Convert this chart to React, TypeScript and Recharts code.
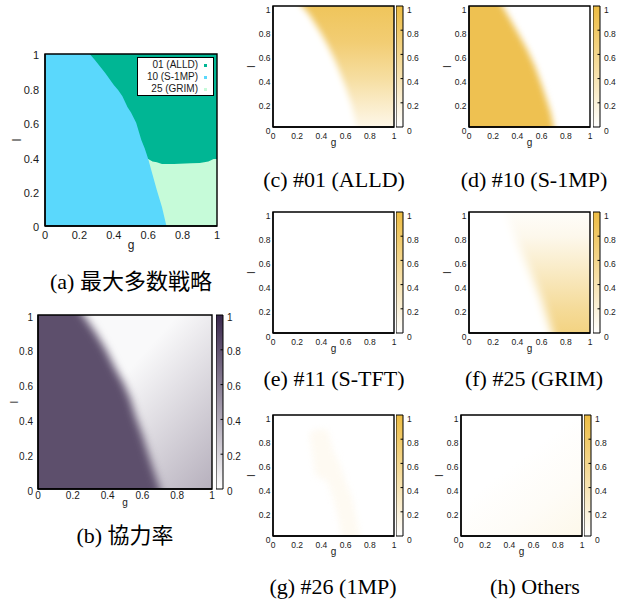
import React from 'react';
import { ComposedChart, Area, XAxis, YAxis, ReferenceArea, Legend } from 'recharts';

// ---------------- data ----------------
const TICKS = [0, 0.2, 0.4, 0.6, 0.8, 1];
const CB_LEVELS = [0, 1];
const CB_TOP = [1, 1];

// (a) majority strategy: region boundaries, l as a function of g
const aG = [0, 0.26, 0.29, 0.35, 0.4, 0.425, 0.45, 0.48, 0.5, 0.53, 0.56, 0.58, 0.6, 0.625, 0.65, 0.68, 0.706, 0.75, 0.85, 0.9, 0.95, 0.98, 1];
const aALLD = [1, 1, 1, 1, 1, 1, 1, 1, 1, 1, 1, 1, 1, 1, 1, 1, 1, 1, 1, 1, 1, 1, 1];
const aS1MP = [1, 1, 0.965, 0.89, 0.82, 0.79, 0.755, 0.69, 0.66, 0.6, 0.5, 0.45, 0.39, 0.3, 0.21, 0.11, 0, 0, 0, 0, 0, 0, 0];
const aGRIM = [0.39, 0.39, 0.39, 0.39, 0.39, 0.39, 0.39, 0.39, 0.39, 0.39, 0.39, 0.39, 0.39, 0.375, 0.37, 0.36, 0.36, 0.36, 0.365, 0.367, 0.375, 0.39, 0.39];

// (b) cooperation rate
const bG = [-0.2, 0, 0.1, 0.18, 0.26, 0.33, 0.39, 0.44, 0.49, 0.53, 0.56, 0.6, 0.625, 0.66, 0.7, 0.76, 1, 1.2];
const bHighTop = [1.3, 1.3, 1.3, 1.13, 1, 0.9, 0.8, 0.7, 0.61, 0.52, 0.42, 0.31, 0.23, 0.12, 0, -0.2, -0.2, -0.2];
const bLowTop = [null, 1, 1, 1, 1, 1, 1, 1, 1, 1, 1, 1, 1, 1, 1, 1, 1, null];
const bHighValue = 0.82;
const bLowValues = [0.03, 0.4];

// (c) #01 ALLD share
const cG = [-0.2, 0, 0.1, 0.17, 0.24, 0.3, 0.4, 0.45, 0.51, 0.55, 0.6, 0.65, 0.69, 0.74, 1, 1.2];
const cZeroTop = [1.3, 1.3, 1.3, 1.12, 1, 0.93, 0.77, 0.68, 0.555, 0.46, 0.33, 0.18, 0, -0.2, -0.2, -0.2];
const cShareTop = [null, 1, 1, 1, 1, 1, 1, 1, 1, 1, 1, 1, 1, 1, 1, null];
const cShareL = [1, 0.7, 0.4, 0.2, 0];
const cShareV = [0.87, 0.74, 0.5, 0.3, 0.12];

// (d) #10 S-1MP share
const dG = [-0.2, 0, 0.1, 0.19, 0.276, 0.34, 0.406, 0.48, 0.545, 0.6, 0.64, 0.675, 0.7, 0.75, 1, 1.2];
const dShareTop = [1.3, 1.3, 1.3, 1.15, 1, 0.89, 0.775, 0.64, 0.5, 0.35, 0.23, 0.12, 0, -0.2, -0.2, -0.2];
const dShareValue = 0.92;

// (e) #11 S-TFT share (zero everywhere)
const eG = [0, 1];
const eShareTop = [1, 1];
const eShareValue = 0;

// (f) #25 GRIM share
const fG = [-0.2, 0, 0.1, 0.2, 0.3, 0.4, 0.51, 0.6, 0.69, 0.75, 1, 1.2];
const fZeroTop = [1.3, 1.3, 1.3, 1.15, 1, 0.75, 0.5, 0.28, 0, -0.2, -0.2, -0.2];
const fShareTop = [null, 1, 1, 1, 1, 1, 1, 1, 1, 1, 1, null];
const fShareL = [1, 0.8, 0.5, 0.2, 0];
const fShareV = [0.03, 0.1, 0.32, 0.54, 0.66];

// (g) #26 1MP share (faint band)
const gG = [0.3, 0.35, 0.45, 0.5, 0.55, 0.6, 0.66, 0.7, 0.75];
const gBandLo = [0.85, 0.5, 0.45, 0.3, 0.1, -0.2, -0.2, -0.2, -0.2];
const gBandHi = [0.85, 0.88, 0.88, 0.7, 0.6, 0.45, 0.3, 0.1, -0.2];
const gBandValue = 0.07;

// (h) others
const hG = [0, 1];
const hShareTop = [1, 1];
const hShareV = [0, 0.04, 0.11];

// ---------------- styling helpers ----------------
const SANS = "'Liberation Sans', Arial, Helvetica, sans-serif";
const SERIF = "'Liberation Serif', 'Times New Roman', 'Noto Sans CJK JP', serif";
const TXT = '#1a1a1a';
const AXIS_LINE = { stroke: '#000', strokeWidth: 1.3 };
const C_ALLD = '#00b694';
const C_S1MP = '#5ad8fc';
const C_GRIM = '#c6fbd9';
const PURPLE_MAX = [58, 40, 76];
const GOLD_MAX = [237, 188, 66];
const mix = (c: number[], v: number) => `rgb(${c.map((k) => Math.round(255 + (k - 255) * v)).join(',')})`;
const purple = (v: number) => mix(PURPLE_MAX, v);
const gold = (v: number) => mix(GOLD_MAX, v);

const ML = 44, MT = 8, MR = 6, MB = 24;

const table = (g: number[], cols: Record<string, any[]>) =>
  g.map((gv, i) => {
    const r: Record<string, any> = { g: gv };
    Object.keys(cols).forEach((k) => { r[k] = cols[k][i]; });
    return r;
  });

const aRows = table(aG, { alld: aALLD, s1mp: aS1MP, grim: aGRIM });
const bRows = table(bG, { high: bHighTop, low: bLowTop });
const cRows = table(cG, { zero: cZeroTop, share: cShareTop });
const dRows = table(dG, { share: dShareTop });
const eRows = table(eG, { share: eShareTop });
const fRows = table(fG, { zero: fZeroTop, share: fShareTop });
const gRows = table(gG, { band: gBandLo.map((lo, i) => [lo, gBandHi[i]]) });
const hRows = table(hG, { share: hShareTop });
const cbRows = CB_LEVELS.map((c, i) => ({ c, v: CB_TOP[i] }));

type Cfg = {
  left: number; top: number; size: number; font: number; xc: number; yc: number; gap: number;
  gDy: number; lDx: number; axFont: number; cbLeft?: number; cbGrad?: string;
  cap: string; capX: number; capY: number;
};

const SMALL = { size: 121, font: 8.5, xc: 9, yc: 3.5, gap: 2.5, gDy: 17, lDx: 21.5, axFont: 10 };
const PA: Cfg = { left: 45, top: 54, size: 172, font: 11, xc: 9, yc: 1.5, gap: 6, gDy: 21, lDx: 28, axFont: 12, cap: '(a) 最大多数戦略', capX: 131, capY: 283 };
const PB: Cfg = { left: 38, top: 315, size: 174, font: 10, xc: 6, yc: 2, gap: 5, gDy: 15, lDx: 23.5, axFont: 10, cbLeft: 216, cbGrad: 'cbPurple', cap: '(b) 協力率', capX: 125, capY: 537 };
const PC: Cfg = { ...SMALL, left: 273, top: 6, cbLeft: 396, cbGrad: 'cbGold', cap: '(c) #01 (ALLD)', capX: 334, capY: 181 };
const PD: Cfg = { ...SMALL, left: 469, top: 6, cbLeft: 593, cbGrad: 'cbGold', cap: '(d) #10 (S-1MP)', capX: 534, capY: 181 };
const PE: Cfg = { ...SMALL, left: 273, top: 212, cbLeft: 396, cbGrad: 'cbGold', cap: '(e) #11 (S-TFT)', capX: 334, capY: 380 };
const PF: Cfg = { ...SMALL, left: 469, top: 212, cbLeft: 593, cbGrad: 'cbGold', cap: '(f) #25 (GRIM)', capX: 534, capY: 380 };
const PG: Cfg = { ...SMALL, left: 273, top: 415, cbLeft: 396, cbGrad: 'cbGold', cap: '(g) #26 (1MP)', capX: 333, capY: 588 };
const PH: Cfg = { ...SMALL, left: 461, top: 415, cbLeft: 584, cbGrad: 'cbGold', cap: '(h) Others', capX: 535, capY: 588 };
const PANELS = [PA, PB, PC, PD, PE, PF, PG, PH];

const fmt = (v: number) => String(v);

function Panel({ cfg, rows, children }: { cfg: Cfg; rows: any[]; children: React.ReactNode }) {
  const { left, top, size, font, xc, yc, gap } = cfg;
  const xTick = (p: any) => (
    <text x={p.x} y={p.y + xc + 0.36 * font} textAnchor="middle" fontSize={font} fontFamily={SANS} fill={TXT}>
      {fmt(p.payload.value)}
    </text>
  );
  const yTick = (p: any) => (
    <text x={p.x - gap} y={p.y + yc + 0.36 * font} textAnchor="end" fontSize={font} fontFamily={SANS} fill={TXT}>
      {fmt(p.payload.value)}
    </text>
  );
  return (
    <div style={{ position: 'absolute', left: left - ML, top: top - MT }}>
      <ComposedChart width={ML + size + MR} height={MT + size + MB} data={rows} margin={{ top: MT, right: MR, bottom: 0, left: 0 }}>
        {children}
        <XAxis dataKey="g" type="number" domain={[0, 1]} allowDataOverflow ticks={TICKS} interval={0} height={MB}
          tickSize={0} tickMargin={0} tickLine={false} tick={xTick} axisLine={AXIS_LINE} />
        <YAxis type="number" domain={[0, 1]} allowDataOverflow ticks={TICKS} interval={0} width={ML}
          tickSize={0} tickMargin={0} tickLine={false} tick={yTick} axisLine={AXIS_LINE} />
        <ReferenceArea x1={0} x2={1} y1={0} y2={1} fill="none" fillOpacity={0} stroke="#000" strokeWidth={1.4}
          ifOverflow="visible" />
      </ComposedChart>
    </div>
  );
}

function ColorBar({ cfg }: { cfg: Cfg }) {
  const W = 7;
  const { top, size, font, yc } = cfg;
  const tick = (p: any) => {
    const v = p.payload.value;
    return (
      <g>
        {v !== 0 && v !== 1 ? <line x1={p.x - 2.5} x2={p.x} y1={p.y} y2={p.y} stroke="#000" strokeWidth={1} /> : null}
        <text x={p.x + 4} y={p.y + yc + 0.36 * font} fontSize={font} fontFamily={SANS} fill={TXT}>{fmt(v)}</text>
      </g>
    );
  };
  return (
    <div style={{ position: 'absolute', left: cfg.cbLeft, top: top - MT }}>
      <ComposedChart width={W + 30} height={size + 2 * MT} data={cbRows} margin={{ top: MT, right: 0, bottom: MT, left: 0 }}>
        <Area dataKey="v" type="linear" baseValue={0} fill={`url(#${cfg.cbGrad})`} fillOpacity={1} stroke="none"
          isAnimationActive={false} dot={false} activeDot={false} />
        <XAxis dataKey="c" type="number" domain={[0, 1]} hide />
        <YAxis orientation="right" type="number" domain={[0, 1]} ticks={TICKS} interval={0} width={30}
          tickSize={0} tickMargin={0} tickLine={false} axisLine={false} tick={tick} />
        <ReferenceArea x1={0} x2={1} y1={0} y2={1} fill="none" fillOpacity={0} stroke="#000" strokeWidth={1}
          ifOverflow="visible" />
      </ComposedChart>
    </div>
  );
}

const legendContent = (props: any) => {
  const items = [...(props.payload || [])].sort((a: any, b: any) => String(a.value).localeCompare(String(b.value)));
  return (
    <div style={{ width: 75, height: 36, border: '1px solid #000', background: '#fff', fontFamily: SANS, fontSize: 10,
      lineHeight: '12.2px', color: TXT, paddingTop: 1, boxSizing: 'content-box' }}>
      {items.map((it: any) => (
        <div key={it.value} style={{ display: 'flex', justifyContent: 'flex-end', alignItems: 'center', paddingRight: 6 }}>
          <span>{it.value}</span>
          <span style={{ display: 'inline-block', width: 3, height: 3, background: it.color, marginLeft: 6 }} />
        </div>
      ))}
    </div>
  );
};

function Defs() {
  const vstops = (ls: number[], vs: number[], pal: (v: number) => string) =>
    ls.map((l, i) => <stop key={i} offset={1 - l} stopColor={pal(vs[i])} />);
  return (
    <svg width={0} height={0} style={{ position: 'absolute', left: 0, top: 0 }} aria-hidden="true">
      <defs>
        <linearGradient id="cbPurple" x1="0" y1="1" x2="0" y2="0">
          <stop offset="0" stopColor={purple(0)} />
          <stop offset="1" stopColor={purple(1)} />
        </linearGradient>
        <linearGradient id="cbGold" x1="0" y1="1" x2="0" y2="0">
          <stop offset="0" stopColor={gold(0)} />
          <stop offset="1" stopColor={gold(1)} />
        </linearGradient>
        <linearGradient id="bBg" x1="0.4" y1="0.45" x2="1.064" y2="1.044">
          <stop offset="0" stopColor={purple(bLowValues[0])} />
          <stop offset="1" stopColor={purple(bLowValues[1])} />
        </linearGradient>
        <linearGradient id="cBg" x1="0" y1="0" x2="0" y2="1">{vstops(cShareL, cShareV, gold)}</linearGradient>
        <linearGradient id="fBg" x1="0" y1="0" x2="0" y2="1">{vstops(fShareL, fShareV, gold)}</linearGradient>
        <linearGradient id="hBg" x1="0.5" y1="0.35" x2="1" y2="1">
          <stop offset="0" stopColor={gold(hShareV[0])} />
          <stop offset="0.5" stopColor={gold(hShareV[1])} />
          <stop offset="1" stopColor={gold(hShareV[2])} />
        </linearGradient>
        {[3, 4, 5].map((s) => (
          <filter key={s} id={`blur${s}`} x="-50%" y="-50%" width="200%" height="200%" colorInterpolationFilters="sRGB">
            <feGaussianBlur stdDeviation={s} />
          </filter>
        ))}
      </defs>
    </svg>
  );
}

function Overlay() {
  return (
    <svg width={625} height={600} style={{ position: 'absolute', left: 0, top: 0, pointerEvents: 'none' }}>
      {PANELS.map((c) => {
        const lx = c.left - c.lDx;
        const ly = c.top + c.size / 2;
        return (
          <g key={c.cap}>
            <text x={c.left + c.size / 2} y={c.top + c.size + c.gDy + 0.16 * c.axFont} textAnchor="middle"
              fontSize={c.axFont} fontFamily={SANS} fill={TXT}>g</text>
            <text x={lx} y={ly + 0.36 * c.axFont} textAnchor="middle" fontSize={c.axFont} fontFamily={SANS} fill={TXT}
              transform={`rotate(-90 ${lx} ${ly})`}>l</text>
            <text x={c.capX} y={c.capY + 5.5} textAnchor="middle" fontSize={22} fontFamily={SERIF} fill="#000">{c.cap}</text>
          </g>
        );
      })}
    </svg>
  );
}

const common = { type: 'linear' as const, stroke: 'none', fillOpacity: 1, isAnimationActive: false, dot: false, activeDot: false };

export default function App() {
  return (
    <div style={{ position: 'absolute', left: 0, top: 0, width: 625, height: 600, background: '#fff', overflow: 'hidden' }}>
      <style>{`.blur3 .recharts-area-area{filter:url(#blur3)}.blur4 .recharts-area-area{filter:url(#blur4)}.blur5 .recharts-area-area{filter:url(#blur5)}`}</style>
      <Defs />

      <Panel cfg={PA} rows={aRows}>
        <Area {...common} dataKey="alld" name="01 (ALLD)" fill={C_ALLD} baseValue={0} />
        <Area {...common} dataKey="grim" name="25 (GRIM)" fill={C_GRIM} baseValue={0} />
        <Area {...common} dataKey="s1mp" name="10 (S-1MP)" fill={C_S1MP} baseValue={0} />
        <Legend layout="horizontal" verticalAlign="middle" align="center" content={legendContent}
          wrapperStyle={{ position: 'absolute', left: 136, top: 11, width: 78 }} />
      </Panel>

      <Panel cfg={PB} rows={bRows}>
        <Area {...common} dataKey="low" name="low" fill="url(#bBg)" baseValue={0} />
        <Area {...common} dataKey="high" name="high" fill={purple(bHighValue)} baseValue={-0.2} className="blur4" filter="url(#blur4)" />
      </Panel>
      <ColorBar cfg={PB} />

      <Panel cfg={PC} rows={cRows}>
        <Area {...common} dataKey="share" name="ALLD" fill="url(#cBg)" baseValue={0} />
        <Area {...common} dataKey="zero" name="zero" fill={gold(0)} baseValue={-0.2} className="blur3" filter="url(#blur3)" />
      </Panel>
      <ColorBar cfg={PC} />

      <Panel cfg={PD} rows={dRows}>
        <Area {...common} dataKey="share" name="S-1MP" fill={gold(dShareValue)} baseValue={-0.2} className="blur3" filter="url(#blur3)" />
      </Panel>
      <ColorBar cfg={PD} />

      <Panel cfg={PE} rows={eRows}>
        <Area {...common} dataKey="share" name="S-TFT" fill={gold(eShareValue)} baseValue={0} />
      </Panel>
      <ColorBar cfg={PE} />

      <Panel cfg={PF} rows={fRows}>
        <Area {...common} dataKey="share" name="GRIM" fill="url(#fBg)" baseValue={0} />
        <Area {...common} dataKey="zero" name="zero" fill={gold(0)} baseValue={-0.2} className="blur5" filter="url(#blur5)" />
      </Panel>
      <ColorBar cfg={PF} />

      <Panel cfg={PG} rows={gRows}>
        <Area {...common} dataKey="band" name="1MP" fill={gold(gBandValue)} className="blur3" filter="url(#blur3)" />
      </Panel>
      <ColorBar cfg={PG} />

      <Panel cfg={PH} rows={hRows}>
        <Area {...common} dataKey="share" name="Others" fill="url(#hBg)" baseValue={0} />
      </Panel>
      <ColorBar cfg={PH} />

      <Overlay />
    </div>
  );
}
